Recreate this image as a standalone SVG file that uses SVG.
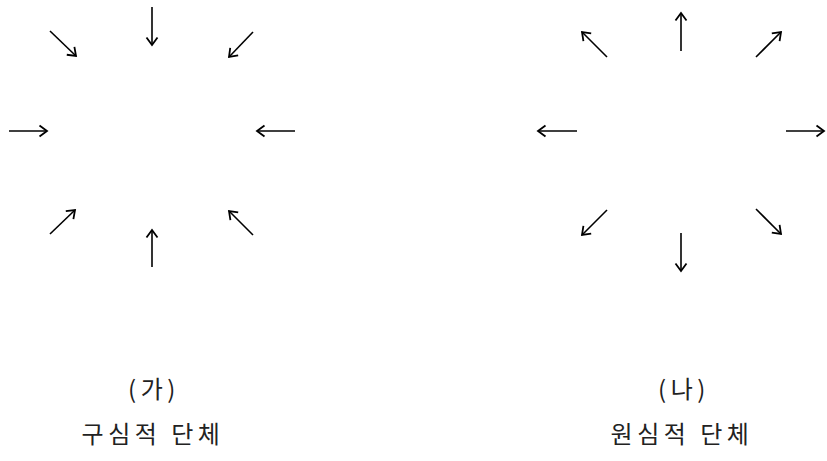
<svg xmlns="http://www.w3.org/2000/svg" width="827" height="461" viewBox="0 0 827 461">
<defs>
<marker id="ah" markerWidth="14" markerHeight="14" refX="10" refY="7" orient="auto" markerUnits="userSpaceOnUse">
<path d="M2.5,1.5 L10,7 L2.5,12.5" fill="none" stroke="#000" stroke-width="1.8"/>
</marker>
<style>
.a{stroke:#000;stroke-width:1.6;fill:none;marker-end:url(#ah)}
.t{font-family:"Noto Sans CJK KR","Noto Sans",sans-serif;font-size:24px;fill:#222;text-anchor:middle;letter-spacing:4.5px}
</style>
</defs>
<rect width="827" height="461" fill="#fff"/>
<g id="connectors">
<g id="left-arrows">
<line class="a" x1="152" y1="7" x2="152" y2="45"/>
<line class="a" x1="50" y1="31" x2="76" y2="56"/>
<line class="a" x1="253" y1="32" x2="229" y2="57"/>
<line class="a" x1="9" y1="131" x2="47" y2="131"/>
<line class="a" x1="295" y1="131" x2="257" y2="131"/>
<line class="a" x1="50" y1="234" x2="75" y2="210"/>
<line class="a" x1="152" y1="267" x2="152" y2="230"/>
<line class="a" x1="253" y1="235" x2="229" y2="211"/>
</g>
<g id="right-arrows">
<line class="a" x1="681" y1="51" x2="681" y2="13"/>
<line class="a" x1="607" y1="57" x2="582" y2="32"/>
<line class="a" x1="756" y1="57" x2="781" y2="32"/>
<line class="a" x1="577" y1="131" x2="538" y2="131"/>
<line class="a" x1="786" y1="131" x2="824" y2="131"/>
<line class="a" x1="607" y1="210" x2="582" y2="235"/>
<line class="a" x1="681" y1="233" x2="681" y2="271"/>
<line class="a" x1="756" y1="209" x2="781" y2="234"/>
</g>
</g>
<g id="label-left">
<text class="t" x="154" y="398">(가)</text>
<text class="t" x="153" y="443">구심적 단체</text>
</g>
<g id="label-right">
<text class="t" x="684" y="398">(나)</text>
<text class="t" x="682" y="443">원심적 단체</text>
</g>
</svg>
